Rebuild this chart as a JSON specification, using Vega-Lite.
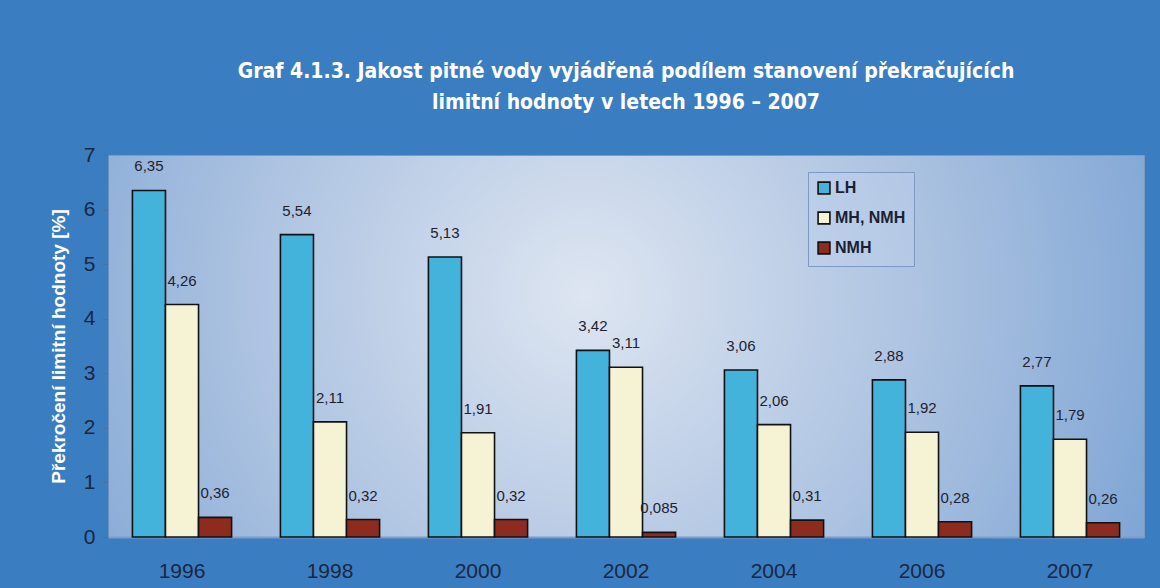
{
  "$schema": "https://vega.github.io/schema/vega-lite/v6.json",
  "width": 1036,
  "height": 382,
  "autosize": {"type": "none"},
  "padding": {"left": 108, "top": 155, "right": 16, "bottom": 51},
  "background": "#3b7dc1",
  "title": {
    "text": ["Graf 4.1.3. Jakost pitné vody vyjádřená podílem stanovení překračujících", "limitní hodnoty v letech 1996 – 2007"],
    "anchor": "middle",
    "frame": "group",
    "font": "'DejaVu Sans Condensed', 'Liberation Sans Narrow', sans-serif",
    "fontSize": 21,
    "fontWeight": "bold",
    "color": "#ffffff",
    "lineHeight": 31,
    "offset": 31
  },
  "data": {
    "values": [
      {"rok": "1996", "serie": "LH", "hodnota": 6.35},
      {"rok": "1996", "serie": "MH, NMH", "hodnota": 4.26},
      {"rok": "1996", "serie": "NMH", "hodnota": 0.36},
      {"rok": "1998", "serie": "LH", "hodnota": 5.54},
      {"rok": "1998", "serie": "MH, NMH", "hodnota": 2.11},
      {"rok": "1998", "serie": "NMH", "hodnota": 0.32},
      {"rok": "2000", "serie": "LH", "hodnota": 5.13},
      {"rok": "2000", "serie": "MH, NMH", "hodnota": 1.91},
      {"rok": "2000", "serie": "NMH", "hodnota": 0.32},
      {"rok": "2002", "serie": "LH", "hodnota": 3.42},
      {"rok": "2002", "serie": "MH, NMH", "hodnota": 3.11},
      {"rok": "2002", "serie": "NMH", "hodnota": 0.085},
      {"rok": "2004", "serie": "LH", "hodnota": 3.06},
      {"rok": "2004", "serie": "MH, NMH", "hodnota": 2.06},
      {"rok": "2004", "serie": "NMH", "hodnota": 0.31},
      {"rok": "2006", "serie": "LH", "hodnota": 2.88},
      {"rok": "2006", "serie": "MH, NMH", "hodnota": 1.92},
      {"rok": "2006", "serie": "NMH", "hodnota": 0.28},
      {"rok": "2007", "serie": "LH", "hodnota": 2.77},
      {"rok": "2007", "serie": "MH, NMH", "hodnota": 1.79},
      {"rok": "2007", "serie": "NMH", "hodnota": 0.26}
    ]
  },
  "encoding": {
    "x": {
      "field": "rok",
      "type": "ordinal",
      "scale": {"paddingInner": 0.33, "paddingOuter": 0.165},
      "axis": {
        "title": null,
        "labelAngle": 0,
        "labelFontSize": 21,
        "labelFont": "Liberation Sans, Arial, sans-serif",
        "labelColor": "#1a2742",
        "labelPadding": 23,
        "ticks": false,
        "domainColor": "#7f9cc6",
        "domainWidth": 2
      }
    },
    "xOffset": {
      "field": "serie",
      "type": "nominal",
      "sort": ["LH", "MH, NMH", "NMH"],
      "scale": {"paddingInner": 0, "paddingOuter": 0}
    },
    "y": {
      "field": "hodnota",
      "type": "quantitative",
      "scale": {"domain": [0, 7], "nice": false},
      "axis": {
        "title": "Překročení limitní hodnoty [%]",
        "titleFontSize": 19,
        "titleFont": "Liberation Sans, Arial, sans-serif",
        "titleFontWeight": "bold",
        "titleColor": "#ffffff",
        "titlePadding": 15,
        "values": [0, 1, 2, 3, 4, 5, 6, 7],
        "format": "d",
        "labelFontSize": 21,
        "labelFont": "Liberation Sans, Arial, sans-serif",
        "labelColor": "#1a2742",
        "labelPadding": 7,
        "tickSize": 6,
        "tickColor": "#4d6f9c",
        "domainColor": "#6f90bd",
        "grid": false
      }
    }
  },
  "layer": [
    {
      "mark": {"type": "bar", "stroke": "#111111", "strokeWidth": 1.6},
      "encoding": {
        "color": {
          "field": "serie",
          "type": "nominal",
          "sort": ["LH", "MH, NMH", "NMH"],
          "scale": {"domain": ["LH", "MH, NMH", "NMH"], "range": ["#44b3dc", "#f6f3d4", "#8e2b1f"]},
          "legend": {
            "title": null,
            "orient": "none",
            "legendX": 700,
            "legendY": 17,
            "symbolType": "square",
            "symbolSize": 140,
            "symbolStrokeColor": "#111111",
            "symbolStrokeWidth": 1.6,
            "symbolOpacity": 1,
            "labelFontSize": 16,
            "labelFont": "Liberation Sans, Arial, sans-serif",
            "labelFontWeight": "bold",
            "labelColor": "#1a1f33",
            "labelOffset": 3,
            "rowPadding": 10,
            "padding": 8,
            "fillColor": "rgba(190,208,235,0.45)",
            "strokeColor": "#7d9ac4"
          }
        }
      }
    },
    {
      "mark": {"type": "text", "dy": -16, "fontSize": 15, "font": "Liberation Sans, Arial, sans-serif", "color": "#1e2230", "baseline": "bottom"},
      "encoding": {
        "text": {"field": "hodnota", "type": "quantitative", "format": "~g"}
      }
    }
  ],
  "config": {
    "locale": {"number": {"decimal": ",", "thousands": "\u00a0", "grouping": [3], "currency": ["", " Kč"]}},
    "view": {
      "stroke": "#7d9ac4",
      "fill": {
        "gradient": "radial",
        "x1": 0.46, "y1": 0.45, "r1": 0,
        "x2": 0.46, "y2": 0.45, "r2": 0.8,
        "stops": [
          {"offset": 0, "color": "#dde5f1"},
          {"offset": 0.4, "color": "#adc3e1"},
          {"offset": 1, "color": "#5b8ecb"}
        ]
      }
    }
  }
}
